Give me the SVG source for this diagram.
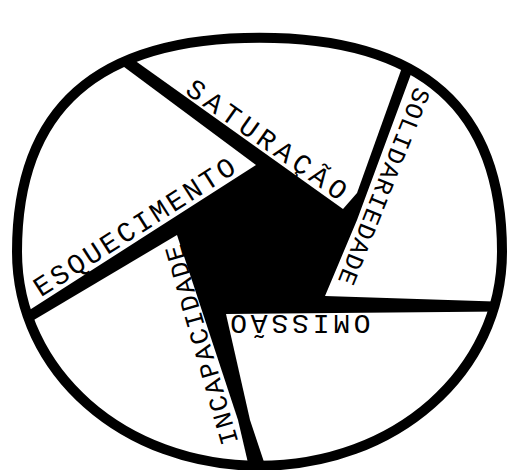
<svg xmlns="http://www.w3.org/2000/svg" width="509" height="470" viewBox="0 0 509 470">
  <defs>
    <path id="rim" d="M502,251.75 C502,108.4 422,37.75 259.5,37.75 C97,37.75 17,108.4 17,251.75 C17,371.6 123.7,465.75 259.5,465.75 C395.3,465.75 502,371.6 502,251.75 Z"/>
    <clipPath id="inside">
      <use href="#rim"/>
    </clipPath>
    <style>
      .blade { fill: #ffffff; }
      .t { font-family: "Liberation Mono", "DejaVu Sans Mono", monospace; fill: #000000; }
    </style>
  </defs>
  <rect width="509" height="470" fill="#ffffff"/>
  <use href="#rim" fill="#000000"/>
  <g clip-path="url(#inside)">
    <g id="blade-saturacao">
      <polygon class="blade" points="343,209 357,193 400,73 426,0 50,0"/>
    </g>
    <g id="blade-solidariedade">
      <polygon class="blade" points="325,296 357,220 414,66 438,0 520,0 520,302.3"/>
    </g>
    <g id="blade-omissao">
      <polygon class="blade" points="226,314 520,311.4 520,480 270,480 250,420"/>
    </g>
    <g id="blade-incapacidade">
      <polygon class="blade" points="177,235 238,420 252,480 0,480 0,340"/>
    </g>
    <g id="blade-esquecimento">
      <polygon class="blade" points="256,165 34,0 0,0 0,329"/>
    </g>
  </g>
  <use href="#rim" fill="none" stroke="#000000" stroke-width="10"/>
  <g id="labels">
    <text class="t" font-size="28" letter-spacing="4.75" transform="translate(184,92.8) rotate(35)">SATURAÇÃO</text>
    <text class="t" font-size="25" letter-spacing="1.23" transform="translate(415.2,86) rotate(111.7)">SOLIDARIEDADE</text>
    <text class="t" font-size="28" letter-spacing="3.8" transform="translate(370.6,315.1) rotate(180)">OMISSÃO</text>
    <text class="t" font-size="26" letter-spacing="1.8" transform="translate(238.4,442.1) rotate(-106.07)">INCAPACIDADE</text>
    <text class="t" font-size="28" letter-spacing="2.9" transform="translate(40.8,297.6) rotate(-32.6)">ESQUECIMENTO</text>
  </g>
</svg>
